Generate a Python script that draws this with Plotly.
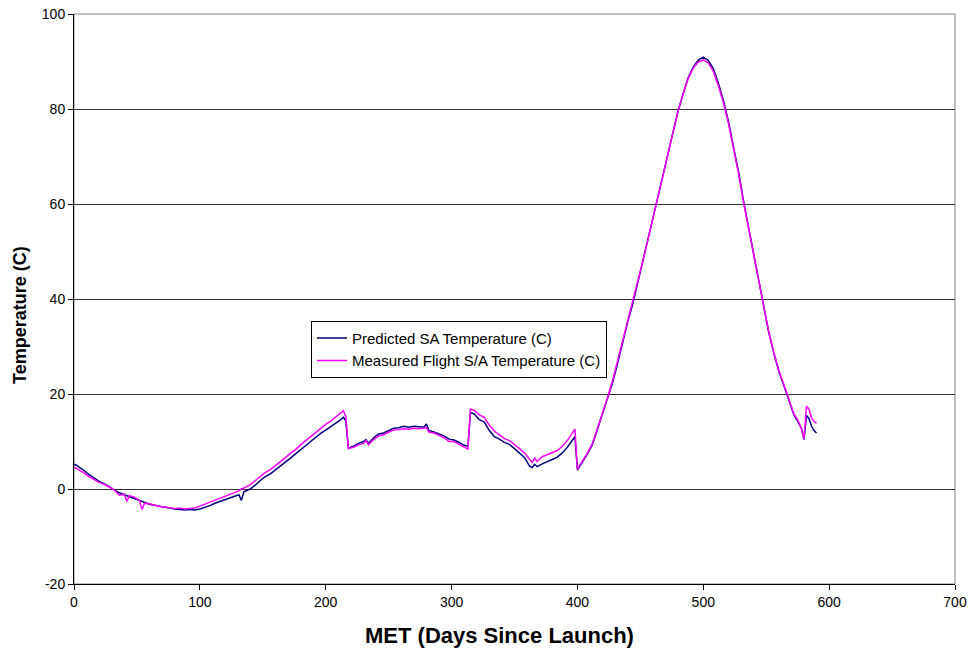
import plotly.graph_objects as go

# Mission elapsed time (days) and solar-array temperatures (deg C)
days = [0, 2, 4, 8, 12, 16, 20, 24, 28, 32, 36, 40, 42, 44, 48, 52, 54, 56, 60, 64,
        68, 72, 76, 80, 84, 88, 92, 96, 100, 104, 108, 112, 116, 120, 124, 128, 131, 133, 135, 140,
        144, 148, 152, 156, 160, 164, 168, 172, 176, 180, 184, 188, 192, 196, 200, 204, 208, 212, 214, 216,
        218, 222, 226, 230, 232, 234, 238, 242, 246, 250, 254, 258, 262, 266, 270, 274, 278, 280, 282, 286,
        290, 294, 298, 302, 306, 310, 313, 315, 318, 322, 326, 330, 334, 338, 342, 346, 350, 354, 358, 362,
        364, 366, 368, 372, 376, 380, 384, 388, 392, 396, 398, 400, 404, 408, 412, 416, 420, 424, 428, 432,
        436, 440, 444, 448, 452, 456, 460, 464, 468, 472, 476, 480, 484, 488, 492, 496, 500, 504, 508, 512,
        516, 520, 524, 528, 532, 536, 540, 544, 548, 552, 556, 560, 564, 568, 570, 572, 574, 576, 578, 580,
        582, 584, 586, 588, 590]

predicted = [5.2, 5.0, 4.6, 3.9, 3.0, 2.3, 1.6, 1.1, 0.5, -0.1, -0.8, -1.2, -1.4, -1.5, -2.0, -2.3, -2.6, -2.8, -3.2, -3.4,
             -3.6, -3.9, -4.1, -4.2, -4.3, -4.4, -4.3, -4.4, -4.2, -3.9, -3.5, -3.0, -2.6, -2.2, -1.9, -1.5, -1.2, -2.4, -0.6, 0.0,
             0.8, 1.8, 2.6, 3.2, 4.0, 4.8, 5.6, 6.5, 7.4, 8.2, 9.1, 10.0, 10.9, 11.7, 12.4, 13.1, 13.9, 14.6, 15.1, 14.3,
             8.6, 9.0, 9.6, 10.0, 10.4, 9.6, 10.8, 11.6, 11.8, 12.3, 12.8, 12.9, 13.2, 13.0, 13.2, 13.1, 13.0, 13.7, 12.3, 12.0,
             11.6, 11.2, 10.5, 10.3, 9.8, 9.2, 9.0, 16.1, 15.8, 14.6, 14.1, 12.3, 11.0, 10.5, 9.8, 9.4, 8.5, 7.5, 6.6, 4.8,
             4.5, 5.2, 4.7, 5.3, 5.7, 6.2, 6.7, 7.6, 8.8, 10.2, 11.0, 4.0, 5.6, 7.4, 9.4, 12.6, 15.6, 18.8, 22.4, 26.5,
             31.0, 35.2, 39.0, 43.5, 47.6, 52.2, 56.8, 61.0, 66.0, 70.6, 75.2, 79.6, 83.2, 86.6, 88.8, 90.3, 90.9, 90.2, 88.5, 85.4,
             81.8, 77.4, 72.0, 66.8, 60.6, 55.2, 49.4, 43.8, 38.8, 33.0, 28.6, 24.8, 21.8, 18.6, 16.9, 15.6, 14.7, 13.8, 12.8, 10.4,
             15.5, 14.8, 13.2, 12.3, 11.8]

measured = [4.6, 4.3, 4.0, 3.4, 2.6, 2.0, 1.4, 1.0, 0.4, -0.2, -1.3, -1.1, -2.6, -1.4, -1.7, -2.4, -4.3, -3.0, -3.1, -3.4,
            -3.7, -3.8, -3.9, -4.1, -4.0, -4.2, -4.1, -4.0, -3.6, -3.2, -2.8, -2.3, -1.9, -1.5, -1.1, -0.7, -0.4, 0.0, 0.2, 0.9,
            1.8, 2.7, 3.5, 4.1, 4.9, 5.8, 6.6, 7.5, 8.3, 9.3, 10.2, 11.1, 12.0, 12.8, 13.6, 14.3, 15.2, 15.9, 16.5, 15.2,
            8.5, 8.8, 9.3, 9.6, 10.2, 9.3, 10.4, 11.2, 11.4, 12.0, 12.4, 12.5, 12.7, 12.6, 12.8, 12.7, 12.8, 12.9, 12.0, 11.8,
            11.3, 10.8, 10.0, 10.0, 9.4, 8.8, 8.4, 16.8, 16.6, 15.6, 15.1, 13.4, 12.2, 11.4, 10.6, 10.2, 9.4, 8.5, 7.6, 6.2,
            5.6, 6.5, 5.8, 6.8, 7.2, 7.7, 8.1, 9.0, 10.2, 11.8, 12.6, 4.2, 5.8, 7.6, 9.6, 12.8, 16.0, 19.3, 22.9, 27.0,
            31.4, 35.6, 39.4, 43.8, 48.0, 52.5, 57.1, 61.3, 66.2, 70.7, 75.3, 79.6, 83.2, 86.4, 88.6, 89.9, 90.3, 89.7, 87.9, 84.9,
            81.3, 77.0, 71.7, 66.4, 60.3, 54.9, 49.2, 43.7, 38.8, 33.1, 28.8, 25.0, 22.0, 18.8, 17.2, 15.8, 15.0, 14.0, 12.6, 10.5,
            17.4, 16.8, 15.0, 14.2, 13.9]

x_ticks = [0, 100, 200, 300, 400, 500, 600, 700]
y_ticks = [-20, 0, 20, 40, 60, 80, 100]
y_tick_text = ["-20", "0", "20", "40", "60", "80", "100"]

x_title = "MET (Days Since Launch)"
y_title = "Temperature (C)"

font_family = "Liberation Sans, Arial, sans-serif"

fig = go.Figure()
fig.add_trace(go.Scatter(x=days, y=predicted, mode="lines",
                         name="Predicted SA Temperature (C)",
                         line=dict(color="#000080", width=1.5)))
fig.add_trace(go.Scatter(x=days, y=measured, mode="lines",
                         name="Measured Flight S/A Temperature (C)",
                         line=dict(color="#FF00FF", width=1.5)))

# plot-area frame (grey) behind the black axis lines
fig.add_shape(type="rect", xref="paper", yref="paper", x0=0, y0=0, x1=1, y1=1,
              line=dict(color="#808080", width=1), layer="below")

# axis titles placed as free annotations
fig.add_annotation(text="<b>" + x_title + "</b>", xref="paper", yref="paper",
                   x=0.4835, y=-0.0895, xanchor="center", yanchor="middle",
                   showarrow=False, font=dict(size=22))
fig.add_annotation(text="<b>" + y_title + "</b>", xref="paper", yref="paper",
                   x=-0.0613, y=0.472, xanchor="center", yanchor="middle",
                   textangle=-90, showarrow=False, font=dict(size=18))

fig.update_layout(
    width=971, height=654,
    margin=dict(l=74, r=16, t=14, b=70, autoexpand=False),
    paper_bgcolor="white", plot_bgcolor="white",
    font=dict(family=font_family, size=14, color="black"),
    showlegend=True,
    legend=dict(x=0.269, y=0.462, xanchor="left", yanchor="top",
                bgcolor="white", bordercolor="black", borderwidth=1,
                font=dict(size=15), itemwidth=30, tracegroupgap=0),
    xaxis=dict(range=[0, 700], tickvals=x_ticks, ticks="outside", ticklen=5,
               tickcolor="black", showline=True, linecolor="black", linewidth=1,
               showgrid=False, zeroline=False, automargin=False),
    yaxis=dict(range=[-20, 100], tickvals=y_ticks, ticktext=y_tick_text,
               ticks="outside", ticklen=5,
               tickcolor="black", showline=True, linecolor="black", linewidth=1,
               showgrid=True, gridcolor="#333333", gridwidth=1, zeroline=False,
               automargin=False),
)

fig.write_html("out.html")
